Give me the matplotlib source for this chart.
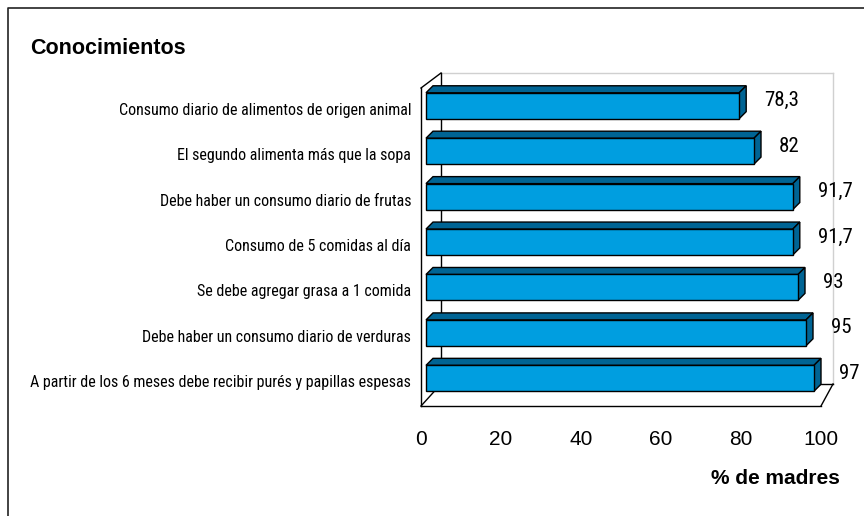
import matplotlib
matplotlib.use("Agg")
import matplotlib.pyplot as plt
from matplotlib import font_manager
from matplotlib.patches import Polygon
from matplotlib.lines import Line2D
from matplotlib.transforms import ScaledTranslation

categories = [
    "Consumo diario de alimentos de origen animal",
    "El segundo alimenta más que la sopa",
    "Debe haber un consumo diario de frutas",
    "Consumo de 5 comidas al día",
    "Se debe agregar grasa a 1 comida",
    "Debe haber un consumo diario de verduras",
    "A partir de los 6 meses debe recibir purés y papillas espesas",
]
values = [78.3, 82, 91.7, 91.7, 93, 95, 97]
value_labels = ["78,3", "82", "91,7", "91,7", "93", "95", "97"]
xticks = [0, 20, 40, 60, 80, 100]

W, H = 864, 516
FRONT = "#009ee0"
DARK = "#006494"
SANS = ["Liberation Sans", "DejaVu Sans"]


# the original uses an Arial Narrow look; take a narrow face if one exists
def pick_narrow():
    fonts = font_manager.fontManager.ttflist
    names = {f.name for f in fonts}
    for n in ["Liberation Sans Narrow", "Arial Narrow", "Roboto Condensed",
              "Open Sans Condensed", "Noto Sans Condensed"]:
        if n in names:
            return n, "normal"
    for f in fonts:
        if f.name == "DejaVu Sans" and "condensed" in str(f.stretch):
            return "DejaVu Sans", "condensed"
    return "Liberation Sans", "normal"


NARROW, STRETCH = pick_narrow()

fig = plt.figure(figsize=(W / 100, H / 100), dpi=100)


def px_box(l, t, r, b):
    return [l / W, 1 - b / H, (r - l) / W, (b - t) / H]


# front plane (carries the scales) and back wall plane of the 3D box
ax = fig.add_axes(px_box(421, 88, 821, 406))
back = fig.add_axes(px_box(441, 73, 833, 384))
for a in (ax, back):
    a.set_xlim(0, 100)
    a.set_ylim(len(categories) - 0.5, -0.5)
back.axis("off")
for s in ax.spines.values():
    s.set_visible(False)
ax.patch.set_visible(False)

ax.set_xticks(xticks)
ax.set_xticklabels([str(t) for t in xticks], fontsize=15, family=SANS)
ax.set_yticks(range(len(categories)))
ylabs = ax.set_yticklabels(categories, fontsize=12.5, family=[NARROW] + SANS,
                           fontstretch=STRETCH)
ax.tick_params(axis="x", length=0, pad=17)
ax.tick_params(axis="y", length=0, pad=7)

# size the category labels to span about the same widths as the original
renderer = fig.canvas.get_renderer()
w0 = ylabs[0].get_window_extent(renderer).width
wlong = ylabs[-1].get_window_extent(renderer).width
cat_size = 12.5 * min(315 / w0, 386 / wlong)
for t in ylabs:
    t.set_fontsize(cat_size)
    t.set_transform(t.get_transform() + ScaledTranslation(0, 0.02, fig.dpi_scale_trans))
val_size = min(15, cat_size * 1.3)

to_fig = fig.transFigure.inverted()


def fpt(p):
    return to_fig.transform(p)


def wall_line(p, q, color="black", lw=1.0, z=1):
    a, b = fpt(p), fpt(q)
    ax.add_line(Line2D([a[0], b[0]], [a[1], b[1]], color=color, lw=lw,
                       transform=fig.transFigure, clip_on=False, zorder=z))


F_tl = ax.transAxes.transform((0, 1))
F_bl = ax.transAxes.transform((0, 0))
F_br = ax.transAxes.transform((1, 0))
B_tl = back.transAxes.transform((0, 1))
B_tr = back.transAxes.transform((1, 1))
B_bl = back.transAxes.transform((0, 0))
B_br = back.transAxes.transform((1, 0))

# back wall
wall_line(B_tl, B_tr, color="#d0d0d0")
wall_line(B_tr, B_br, color="#d0d0d0")
wall_line(B_tl, B_bl)
wall_line(B_bl, B_br)
# side wall
wall_line(F_tl, F_bl)
wall_line(F_tl, B_tl)
wall_line(F_bl, B_bl)
# floor
wall_line(F_bl, F_br)
wall_line(F_br, B_br)

# bars: front face offset into the box, plus depth
front_off = (5, 5)
depth = (7, 7)
bar_h = 0.57
shift = ScaledTranslation(front_off[0] / 100, front_off[1] / 100, fig.dpi_scale_trans)
bars = ax.barh(range(len(values)), values, height=bar_h, color=FRONT,
               edgecolor="black", linewidth=1.0, zorder=4)
for b in bars:
    b.set_transform(ax.transData + shift)

lab_tr = ax.transData + ScaledTranslation(0.30, 0.10, fig.dpi_scale_trans)
for i, v in enumerate(values):
    pts = ax.transData.transform([(0, i - bar_h / 2), (v, i - bar_h / 2),
                                  (v, i + bar_h / 2)])
    pts = pts + front_off
    ftl, ftr, fbr = pts
    btl, btr, bbr = ftl + depth, ftr + depth, fbr + depth
    top = Polygon(fpt([ftl, ftr, btr, btl]), closed=True, facecolor=DARK,
                  edgecolor="black", lw=1.0, transform=fig.transFigure,
                  clip_on=False, zorder=3)
    side = Polygon(fpt([ftr, fbr, bbr, btr]), closed=True, facecolor=DARK,
                   edgecolor="black", lw=1.0, transform=fig.transFigure,
                   clip_on=False, zorder=3)
    ax.add_patch(top)
    ax.add_patch(side)
    ax.text(v, i, value_labels[i], transform=lab_tr, ha="left", va="center",
            fontsize=val_size, family=[NARROW] + SANS, fontstretch=STRETCH,
            zorder=5, clip_on=False)

fig.text(30 / W, 1 - 49 / H, "Conocimientos", fontsize=15.5, fontweight="bold",
         family=SANS, ha="left", va="center")
fig.text(840 / W, 1 - 478 / H, "% de madres", fontsize=15, fontweight="bold",
         family=SANS, ha="right", va="center")

# outer frame (only left and top edges visible)
fig.add_artist(Line2D([8 / W, 8 / W, 1], [0, 1 - 8 / H, 1 - 8 / H],
                      color="#222222", lw=1.2, transform=fig.transFigure))

fig.savefig("out.png", dpi=100)
